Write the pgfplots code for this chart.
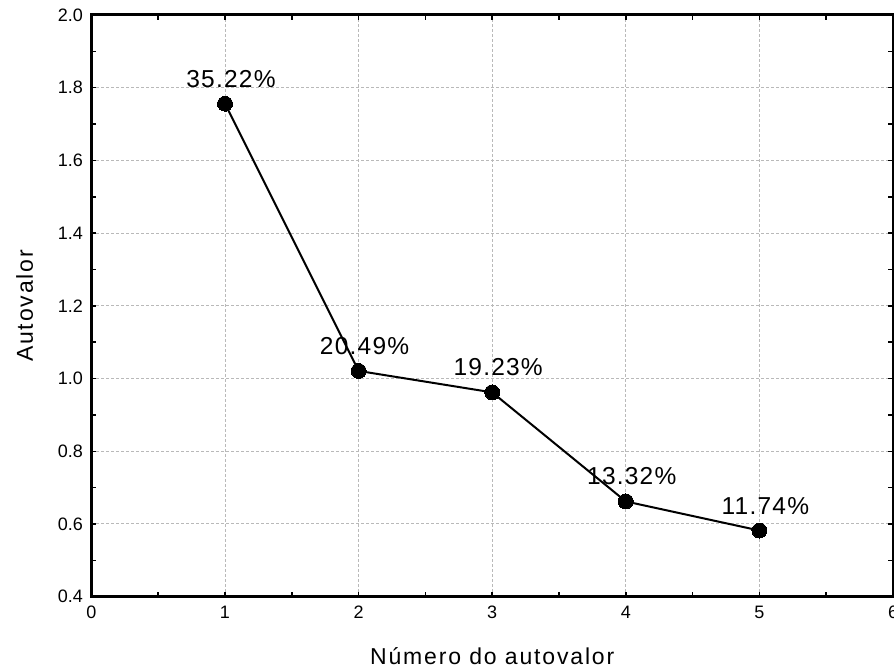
\documentclass[border=0pt]{standalone}
\usepackage{fontspec}
\setmainfont{Liberation Sans}
\newfontfamily\labelfont[LetterSpace=8]{Liberation Sans}
\newfontfamily\notefont[LetterSpace=5]{Liberation Sans}
\usepackage{pgfplots}
\pgfplotsset{compat=1.18}

\begin{document}
\begin{tikzpicture}
\useasboundingbox (0pt,0pt) rectangle (894pt,669pt);
\begin{axis}[
  at={(91.4pt,72.3pt)}, anchor=south west,
  scale only axis, width=801.6pt, height=581.7pt,
  xmin=0, xmax=6, ymin=0.4, ymax=2.0,
  xtick={0,1,...,6},
  ytick={0.4,0.6,...,2.0},
  minor x tick num=1, minor y tick num=1,
  /pgf/number format/assume math mode=true,
  tick label style={font=\fontsize{18}{18}\selectfont, black},
  xticklabel style={yshift=-6pt},
  yticklabel style={xshift=-5pt, /pgf/number format/.cd, fixed, fixed zerofill, precision=1},
  tick align=inside,
  major tick length=5pt, minor tick length=5pt,
  every tick/.style={black, line width=1.5pt},
  axis line style={line width=3pt},
  grid=major,
  major grid style={gray!55, line width=1pt, dash pattern=on 2.5pt off 2.5pt},
  xlabel={\labelfont Número do autovalor},
  ylabel={\labelfont Autovalor},
  label style={font=\fontsize{23}{23}\selectfont},
  xlabel style={at={(axis description cs:0.5,-0.1174)}, anchor=base},
  ylabel style={at={(axis description cs:-0.0729,0.5)}, anchor=base},
  nodes near coords,
  point meta=explicit symbolic,
  every node near coord/.append style={anchor=base, xshift=6pt, yshift=16.5pt,
    font=\notefont\fontsize{24.5}{24.5}\selectfont, black},
]
\addplot[black, line width=2pt, mark=*, mark size=7.5pt,
  mark options={fill=black, line width=0pt}] coordinates {
  (1,1.756) [35.22\%]
  (2,1.021) [20.49\%]
  (3,0.962) [19.23\%]
  (4,0.662) [13.32\%]
  (5,0.582) [11.74\%]
};
\end{axis}
\end{tikzpicture}
\end{document}
